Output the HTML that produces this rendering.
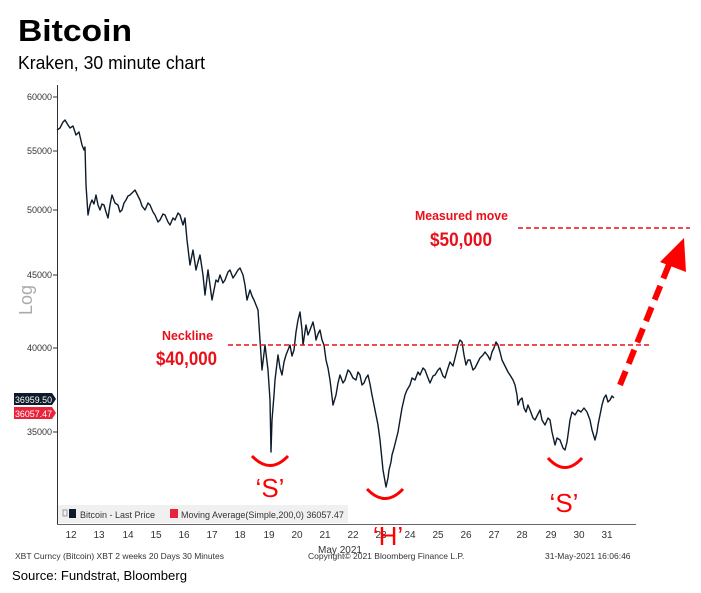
<!DOCTYPE html>
<html><head><style>
body{margin:0;background:#fff;width:701px;height:588px;overflow:hidden;font-family:"Liberation Sans",sans-serif;}
</style></head><body>
<svg width="701" height="588" xmlns="http://www.w3.org/2000/svg" font-family="Liberation Sans, sans-serif">
<text x="18" y="41" font-size="31" font-weight="bold" fill="#000" textLength="114" lengthAdjust="spacingAndGlyphs">Bitcoin</text>
<text x="18" y="69" font-size="18" fill="#000" textLength="187" lengthAdjust="spacingAndGlyphs">Kraken, 30 minute chart</text>
<line x1="57.5" y1="85" x2="57.5" y2="524" stroke="#333" stroke-width="1"/>
<line x1="57" y1="524.5" x2="636" y2="524.5" stroke="#666" stroke-width="1"/>
<g font-size="9" fill="#333" text-anchor="end">
<text x="52" y="100">60000</text><line x1="53" y1="97" x2="57" y2="97" stroke="#333"/>
<text x="52" y="154">55000</text><line x1="53" y1="151" x2="57" y2="151" stroke="#333"/>
<text x="52" y="213">50000</text><line x1="53" y1="210" x2="57" y2="210" stroke="#333"/>
<text x="52" y="278">45000</text><line x1="53" y1="275" x2="57" y2="275" stroke="#333"/>
<text x="52" y="351">40000</text><line x1="53" y1="348" x2="57" y2="348" stroke="#333"/>
<text x="52" y="435">35000</text><line x1="53" y1="432" x2="57" y2="432" stroke="#333"/>
</g>
<text x="32" y="300" font-size="18" fill="#aaa" transform="rotate(-90 32 300)" text-anchor="middle">Log</text>
<polygon points="14,393 52,393 56,399 52,405 14,405" fill="#0d1b2a"/>
<text x="15" y="403" font-size="9.5" fill="#fff" textLength="37" lengthAdjust="spacingAndGlyphs">36959.50</text>
<polygon points="14,407 52,407 56,413 52,419 14,419" fill="#e8233a"/>
<text x="15" y="417" font-size="9.5" fill="#fff" textLength="37" lengthAdjust="spacingAndGlyphs">36057.47</text>
<rect x="58" y="505" width="290" height="18" fill="#f0f0f0"/>
<rect x="69" y="509" width="7" height="9" fill="#0d1b2a"/>
<text x="80" y="518" font-size="9" fill="#333">Bitcoin - Last Price</text>
<rect x="170" y="509" width="8" height="9" fill="#e8233a"/>
<text x="181" y="518" font-size="9" fill="#333">Moving Average(Simple,200,0) 36057.47</text>
<rect x="63" y="510" width="4" height="6" fill="none" stroke="#888" stroke-width="0.8"/>
<g font-size="10" fill="#333" text-anchor="middle">
<text x="71" y="538">12</text><text x="99" y="538">13</text><text x="128" y="538">14</text><text x="156" y="538">15</text><text x="184" y="538">16</text><text x="212" y="538">17</text><text x="240" y="538">18</text><text x="269" y="538">19</text><text x="297" y="538">20</text><text x="325" y="538">21</text><text x="353" y="538">22</text><text x="381" y="538">23</text><text x="410" y="538">24</text><text x="438" y="538">25</text><text x="466" y="538">26</text><text x="494" y="538">27</text><text x="522" y="538">28</text><text x="551" y="538">29</text><text x="579" y="538">30</text><text x="607" y="538">31</text>
<text x="340" y="553">May 2021</text>
</g>
<g font-size="8.5" fill="#333">
<text x="15" y="559">XBT Curncy (Bitcoin) XBT 2 weeks 20 Days 30 Minutes</text>
<text x="308" y="559">Copyright© 2021 Bloomberg Finance L.P.</text>
<text x="545" y="559">31-May-2021 16:06:46</text>
</g>
<text x="12" y="580" font-size="13" fill="#000" textLength="175" lengthAdjust="spacingAndGlyphs">Source: Fundstrat, Bloomberg</text>
<polyline fill="none" stroke="#0d1b2a" stroke-width="1.4" stroke-linejoin="round" points="57,130 60,128 63,122 65,120 68,125 70,128 73,126 76,135 79,132 82,145 84,150 85,147 86,185 88,215 90,205 92,200 94,204 96,195 98,205 100,210 102,204 104,205 106,212 108,218 110,205 112,195 115,203 118,205 120,212 122,210 124,203 126,200 128,196 130,195 133,192 135,190 138,196 140,200 142,206 145,210 148,203 150,205 153,212 155,215 158,222 160,220 163,214 165,215 168,222 170,225 173,218 175,220 178,213 180,215 183,225 185,218 187,240 190,265 193,250 196,270 198,262 200,255 203,275 205,295 208,270 210,285 212,300 214,290 216,280 218,282 220,275 223,283 225,280 228,272 230,270 233,278 235,275 238,270 240,268 243,275 245,285 247,300 250,290 252,296 254,300 256,305 258,310 260,340 262,370 265,345 268,370 270,400 271,452 272,420 274,395 275,380 278,355 280,368 282,375 284,362 286,355 288,350 290,345 292,356 294,350 296,332 298,320 300,312 302,330 303,345 306,325 308,335 310,330 313,322 315,332 316,340 318,334 320,330 322,340 324,345 326,360 328,368 330,380 333,405 336,395 338,383 340,375 343,383 345,380 348,370 350,372 353,378 356,380 358,372 360,375 362,385 364,383 366,378 368,375 370,384 372,395 374,405 376,415 378,425 380,440 382,460 383,470 386,487 388,478 389,470 391,462 392,455 394,448 396,440 398,432 400,420 402,408 405,395 407,390 410,385 412,378 415,380 418,372 420,375 423,368 425,370 428,378 430,383 433,376 435,375 438,370 440,368 443,376 445,378 448,368 450,362 453,366 455,358 457,350 458,345 460,340 462,342 464,355 466,365 468,360 470,360 473,370 475,368 478,362 480,358 483,355 485,352 488,356 490,360 492,352 494,348 496,342 498,345 500,352 502,360 504,364 506,368 508,372 510,375 513,380 515,385 517,395 518,405 520,400 522,398 524,408 526,412 528,405 530,410 533,418 535,420 538,414 540,410 542,420 545,425 548,418 550,420 552,432 555,445 557,438 560,440 563,448 565,450 567,442 568,435 570,420 572,412 575,415 578,410 581,412 584,408 587,412 590,420 592,430 595,440 597,432 598,425 600,415 602,405 604,398 606,395 608,402 610,400 612,396 614,398"/>
<line x1="228" y1="345" x2="650" y2="345" stroke="#e8101a" stroke-width="1.5" stroke-dasharray="5,3"/>
<line x1="518" y1="228" x2="690" y2="228" stroke="#e8101a" stroke-width="1.5" stroke-dasharray="5,3"/>
<line x1="620" y1="385" x2="670" y2="262" stroke="#ff0000" stroke-width="6" stroke-dasharray="15,8"/>
<polygon points="684,238 686,272 660,262" fill="#ff0000"/>
<g fill="#e8101a" font-weight="bold">
<text x="162" y="340" font-size="13" textLength="51" lengthAdjust="spacingAndGlyphs">Neckline</text>
<text x="156" y="365" font-size="19" textLength="61" lengthAdjust="spacingAndGlyphs">$40,000</text>
<text x="415" y="220" font-size="13" textLength="93" lengthAdjust="spacingAndGlyphs">Measured move</text>
<text x="430" y="246" font-size="19" textLength="62" lengthAdjust="spacingAndGlyphs">$50,000</text>
</g>
<g fill="none" stroke="#ff0000" stroke-width="3">
<path d="M252,456 Q270,475 288,456"/>
<path d="M367,489 Q385,508 403,489"/>
<path d="M548,458 Q565,477 582,458"/>
</g>
<g fill="#ff0000" font-size="26" text-anchor="middle">
<text x="270" y="497">‘S’</text>
<text x="388" y="545">‘H’</text>
<text x="564" y="512">‘S’</text>
</g>
</svg>
</body></html>
